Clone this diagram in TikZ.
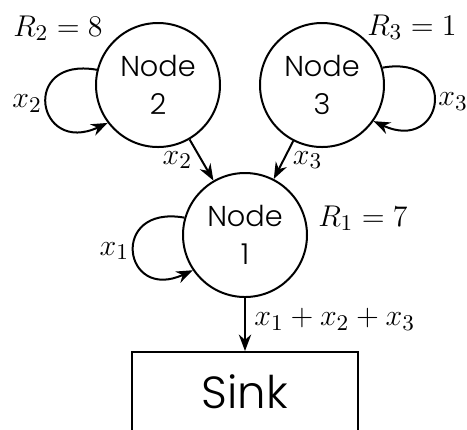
\documentclass[tikz,border=0pt]{standalone}
\usepackage{fontspec}
\newfontfamily\nodefont{Poppins Light}
\usetikzlibrary{arrows.meta}

\begin{document}
\begin{tikzpicture}[x=.4pt,y=.4pt,>=Stealth,line width=.8pt,
    font=\fontsize{12.5}{15}\selectfont,
    state/.style={draw,circle,minimum size=49.6pt,inner sep=0pt,align=center,
      font=\nodefont\fontsize{11.5}{15}\selectfont},
    sinkbox/.style={draw,rectangle,minimum width=90.4pt,inner ysep=0pt,
      text height=22.4pt,text depth=40pt,anchor=north,
      font=\nodefont\fontsize{18}{20}\selectfont},
    looplabel/.style={inner sep=1.5pt}]
  \useasboundingbox (0,0) rectangle (467,-429);
  \clip (0,0) rectangle (467,-429);

  \node[state] (n2) at (158,-85) {Node\\2};
  \node[state] (n3) at (322,-85) {Node\\3};
  \node[state] (n1) at (245,-235) {Node\\1};
  \node[sinkbox] (sink) at (245,-351) {Sink};

  \node (r2) at (58,-28) {$R_2=8$};
  \node (r3) at (412,-27) {$R_3=1$};
  \node (r1) at (363,-218) {$R_1=7$};

  % self loops
  \draw[->] (n2.166) to[out=170,in=205,looseness=3.7] node[looplabel,left] {$x_2$} (n2.217);
  \draw[->] (n3.16) to[out=10,in=-25,looseness=3.7] node[looplabel,right] {$x_3$} (n3.-35);
  \draw[->] (n1.164) to[out=170,in=205,looseness=3.7] node[looplabel,left] {$x_1$} (n1.214);

  % flows
  \draw[->] (n2) -- node[left] {$x_2$} (n1);
  \draw[->] (n3) -- node[right] {$x_3$} (n1);
  \draw[->] (n1) -- node[right,pos=.4] {$x_1+x_2+x_3$} (sink);
\end{tikzpicture}
\end{document}
